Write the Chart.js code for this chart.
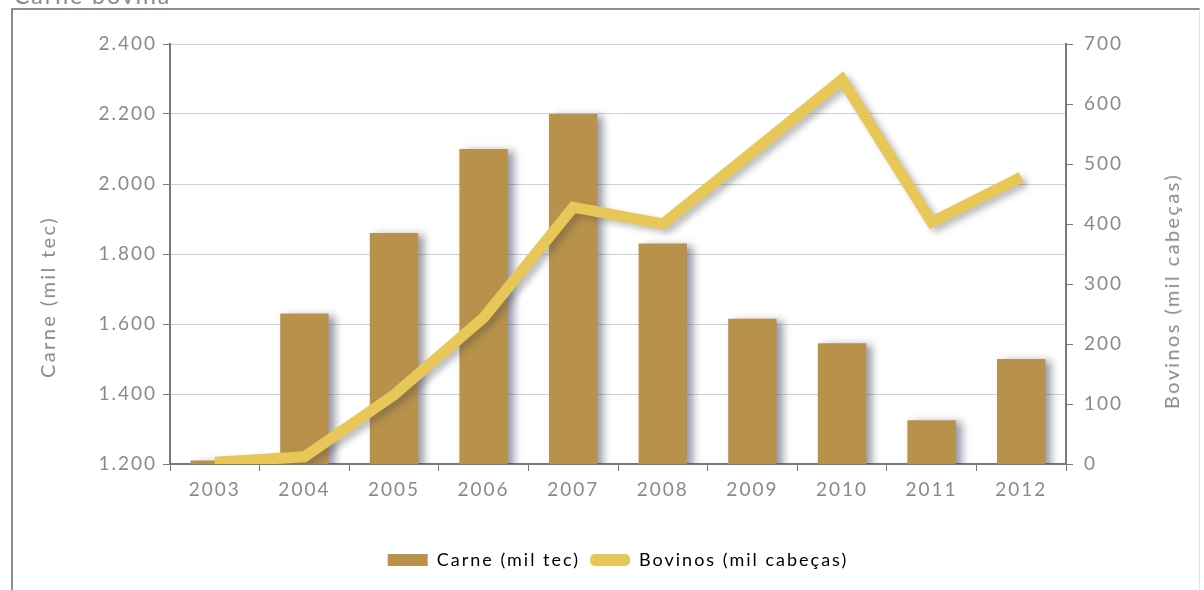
<!DOCTYPE html>
<html>
<head>
<meta charset="utf-8">
<script src="https://cdn.jsdelivr.net/npm/chart.js@4.4.1/dist/chart.umd.min.js"></script>
<style>
  body { margin: 0; width: 1204px; height: 590px; overflow: hidden; position: relative; background: #fff; font-family: Lato, sans-serif; }
  #frame { position: absolute; left: 11px; top: 8px; width: 1186px; height: 600px; border-left: 2px solid #8e8e8e; border-top: 2px solid #8e8e8e; border-right: 1px solid #e4e4e4; }
  #heading { position: absolute; left: 14px; top: -19px; font-size: 23px; color: #8a8a8a; letter-spacing: 2px; }
  .axis-title { position: absolute; white-space: nowrap; font-size: 20px; color: #8a8a8a; letter-spacing: 2.4px; transform: translate(-50%, -50%) rotate(-90deg); }
  #leftTitle { left: 47px; top: 297px; }
  #rightTitle { left: 1171px; top: 291px; }
  canvas { position: absolute; left: 0; top: 0; }
</style>
</head>
<body>
<div id="frame"></div>
<div id="heading">Carne bovina</div>
<canvas id="chart" width="1204" height="590"></canvas>
<div class="axis-title" id="leftTitle">Carne (mil tec)</div>
<div class="axis-title" id="rightTitle">Bovinos (mil cabeças)</div>
<script>
const years = ["2003", "2004", "2005", "2006", "2007", "2008", "2009", "2010", "2011", "2012"];
const carne = [1210, 1630, 1860, 2100, 2200, 1830, 1615, 1545, 1325, 1500];
const bovinos = [3, 12, 115, 244, 428, 400, 520, 641, 403, 478];

const barColor = "#b8914a";
const lineColor = "#e6c757";
const textColor = "#8a8a8a";
const axisColor = "#7a7a7a";

// 2400 -> "2.400"
function milhar(v) {
  return String(v).replace(/\B(?=(\d{3})+(?!\d))/g, ".");
}

// soft drop shadow under bars and line
const shadowPlugin = {
  id: "shadow",
  beforeDatasetDraw(chart, args) {
    const ctx = chart.ctx;
    const isLine = args.meta.type === "line";
    ctx.save();
    ctx.shadowColor = isLine ? "rgba(70,70,70,0.35)" : "rgba(70,70,100,0.55)";
    ctx.shadowBlur = isLine ? 6 : 8;
    ctx.shadowOffsetX = isLine ? 5 : 6;
    ctx.shadowOffsetY = isLine ? 4 : 2;
  },
  afterDatasetDraw(chart) {
    chart.ctx.restore();
  }
};

// wider tracking for all canvas text
const spacingPlugin = {
  id: "spacing",
  beforeUpdate(chart) { chart.ctx.letterSpacing = "2px"; },
  beforeDraw(chart) { chart.ctx.letterSpacing = "2px"; }
};

Chart.defaults.font.family = "Lato, sans-serif";
Chart.defaults.font.size = 19;
Chart.defaults.color = textColor;

new Chart(document.getElementById("chart"), {
  type: "bar",
  data: {
    labels: years,
    datasets: [
      {
        label: "Carne (mil tec)",
        type: "bar",
        data: carne,
        backgroundColor: barColor,
        yAxisID: "y",
        barPercentage: 0.9,
        categoryPercentage: 0.6,
        order: 2
      },
      {
        label: "Bovinos (mil cabeças)",
        type: "line",
        data: bovinos,
        borderColor: lineColor,
        backgroundColor: lineColor,
        borderWidth: 11,
        borderJoinStyle: "miter",
        pointRadius: 0,
        tension: 0,
        fill: false,
        yAxisID: "y1",
        order: 1
      }
    ]
  },
  options: {
    responsive: false,
    animation: false,
    layout: { padding: { top: 44, bottom: 11, left: 0, right: 0 } },
    plugins: {
      tooltip: { enabled: false },
      legend: {
        position: "bottom",
        fullSize: false,
        labels: {
          boxWidth: 40,
          boxHeight: 12,
          padding: 10,
          color: textColor,
          font: { size: 18 },
          useBorderRadius: true,
          sort: (a, b) => a.datasetIndex - b.datasetIndex,
          generateLabels(chart) {
            return chart.data.datasets.map((ds, i) => ({
              text: ds.label,
              fillStyle: ds.type === "line" ? lineColor : barColor,
              strokeStyle: ds.type === "line" ? lineColor : barColor,
              lineWidth: 0,
              borderRadius: ds.type === "line" ? 5 : 0,
              datasetIndex: i,
              hidden: false
            }));
          }
        }
      }
    },
    scales: {
      x: {
        offset: true,
        grid: { offset: true, drawOnChartArea: false, tickLength: 7, tickColor: axisColor },
        border: { color: axisColor, width: 2 },
        ticks: { color: textColor, padding: 7, maxRotation: 0 },
        afterFit(scale) { scale.height = 77; }
      },
      y: {
        position: "left",
        min: 1200,
        max: 2400,
        ticks: { stepSize: 200, padding: 6, color: textColor, callback: (v) => milhar(v) },
        grid: { color: "#cfcfcf", tickColor: axisColor, tickLength: 7 },
        border: { color: axisColor, width: 2 },
        afterFit(scale) { scale.width = 170; }
      },
      y1: {
        position: "right",
        min: 0,
        max: 700,
        ticks: { stepSize: 100, padding: 11, color: textColor },
        grid: { drawOnChartArea: false, tickColor: axisColor, tickLength: 7 },
        border: { color: axisColor, width: 2 },
        afterFit(scale) { scale.width = 138; }
      }
    }
  },
  plugins: [spacingPlugin, shadowPlugin]
});
</script>
</body>
</html>
